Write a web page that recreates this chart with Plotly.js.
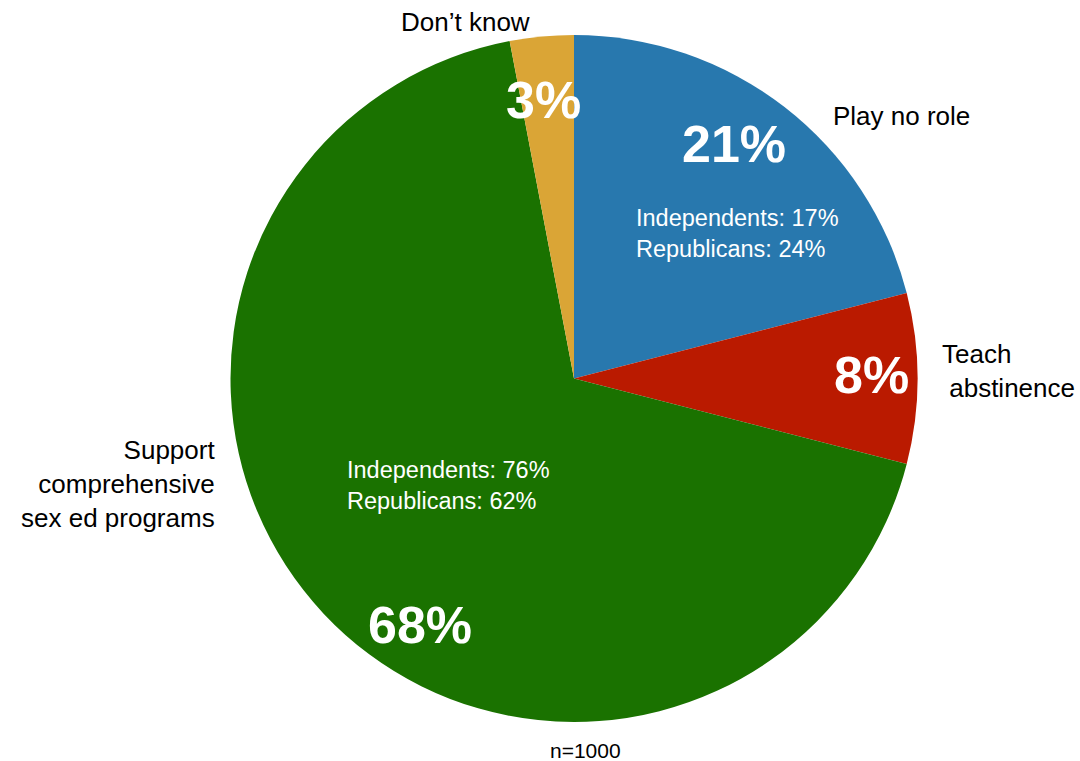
<!DOCTYPE html>
<html>
<head>
<meta charset="utf-8">
<script src="https://cdn.plot.ly/plotly-3.0.1.min.js"></script>
<style>html,body{margin:0;padding:0;background:#fff;}#chart{width:1080px;height:761px;}</style>
</head>
<body>
<div id="chart"></div>
<script>
const labels = ["Play no role", "Teach abstinence", "Support comprehensive sex ed programs", "Don\u2019t know"];
const labelText = ["Play no role", "Teach<br> abstinence", "Support<br>comprehensive<br>sex ed programs", "Don\u2019t know"];
const values = [21, 8, 68, 3];
const colors = ["#2878ae", "#ba1a00", "#1a7200", "#daa536"];
const independents = [17, null, 76, null];
const republicans = [24, null, 62, null];
const sampleNote = "n=1000";

const W = 1080, H = 761;
const px = x => x / W;
const py = y => 1 - y / H;
const font = "Arial, Liberation Sans, sans-serif";

// annotation placements (pixel positions)
const pctPos = [[734, 144], [871, 375], [420, 625], [543, 100]];
const labelPos = [
  {x: 831, y: 116, xanchor: "left", align: "left"},
  {x: 940, y: 371, xanchor: "left", align: "left"},
  {x: 217, y: 484, xanchor: "right", align: "right"},
  {x: 465, y: 22, xanchor: "center", align: "center"}
];
const subPos = [[634, 233], null, [345, 486], null];

const annotations = [];
values.forEach((v, i) => {
  annotations.push({
    x: px(pctPos[i][0]), y: py(pctPos[i][1]), xref: "paper", yref: "paper",
    text: "<b>" + v + "%</b>", showarrow: false, xanchor: "center", yanchor: "middle",
    font: {family: font, size: 52, color: "#ffffff"}
  });
  const lp = labelPos[i];
  annotations.push({
    x: px(lp.x), y: py(lp.y), xref: "paper", yref: "paper",
    text: labelText[i], showarrow: false, xanchor: lp.xanchor, yanchor: "middle", align: lp.align,
    font: {family: font, size: 26, color: "#000000"}
  });
  if (subPos[i]) {
    annotations.push({
      x: px(subPos[i][0]), y: py(subPos[i][1]), xref: "paper", yref: "paper",
      text: "Independents: " + independents[i] + "%<br>Republicans: " + republicans[i] + "%",
      showarrow: false, xanchor: "left", yanchor: "middle", align: "left",
      font: {family: font, size: 23.5, color: "#ffffff"}
    });
  }
});
annotations.push({
  x: px(585), y: py(750), xref: "paper", yref: "paper", text: sampleNote,
  showarrow: false, xanchor: "center", yanchor: "middle",
  font: {family: font, size: 21, color: "#000000"}
});

const trace = {
  type: "pie",
  labels: labels,
  values: values,
  sort: false,
  direction: "clockwise",
  rotation: 0,
  textinfo: "none",
  hoverinfo: "label+percent",
  marker: {colors: colors, line: {width: 0}},
  domain: {x: [px(574 - 345), px(574 + 345)], y: [py(722), py(35)]},
  showlegend: false
};

const layout = {
  width: W, height: H,
  margin: {l: 0, r: 0, t: 0, b: 0},
  paper_bgcolor: "#ffffff",
  showlegend: false,
  annotations: annotations
};

Plotly.newPlot("chart", [trace], layout, {displayModeBar: false, staticPlot: true});
</script>
</body>
</html>
